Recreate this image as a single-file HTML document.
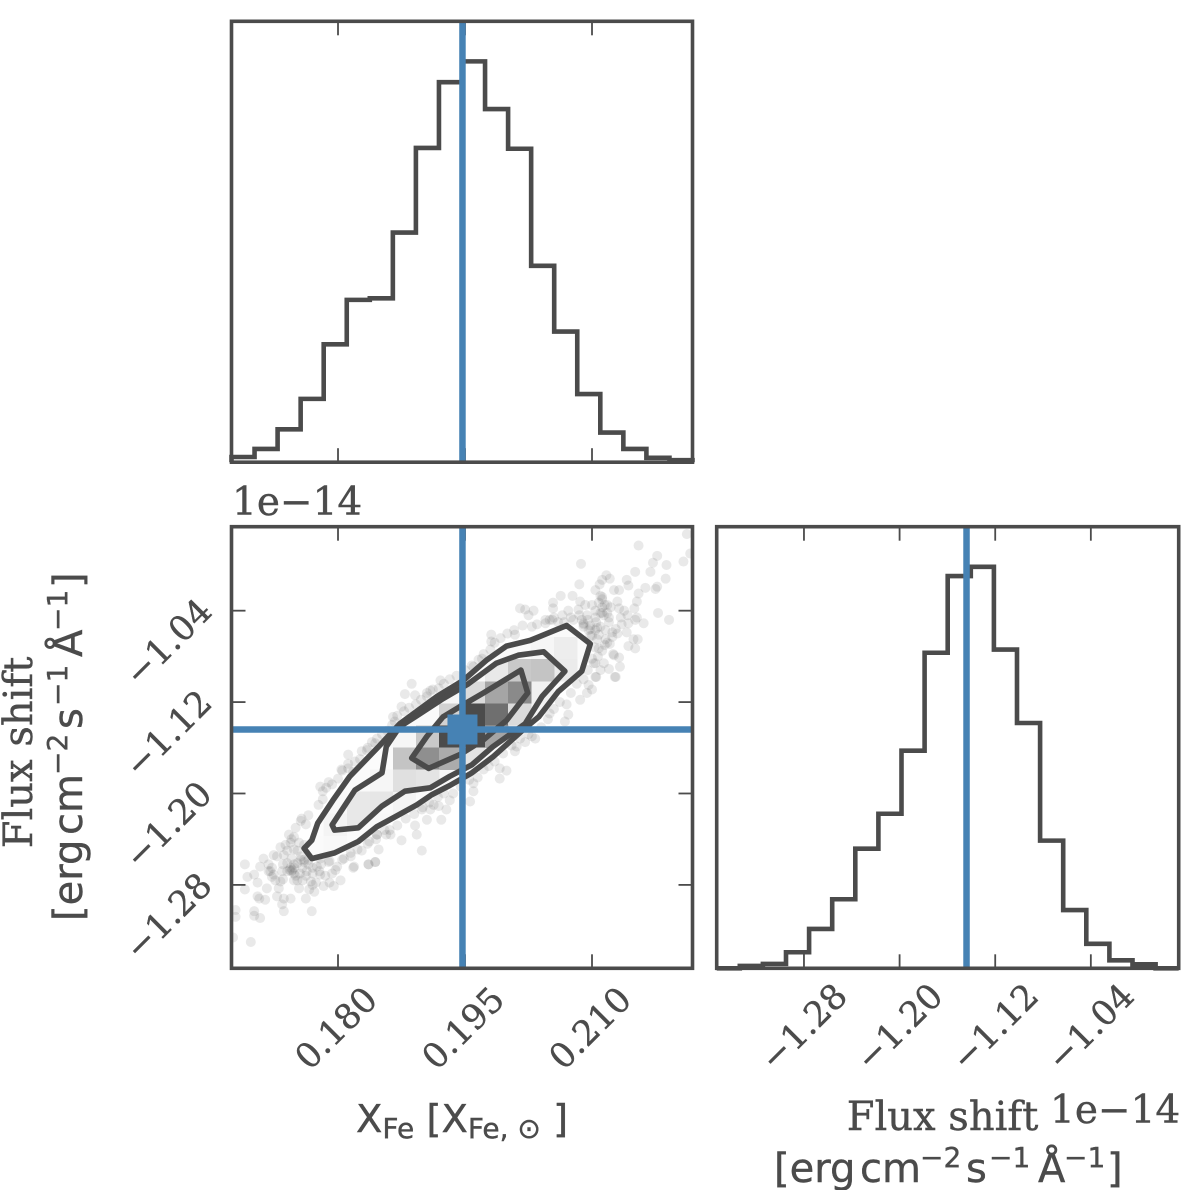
<!DOCTYPE html>
<html lang="en">
<head>
<meta charset="utf-8">
<title>Corner plot: X_Fe and flux shift</title>
<style>
html,body{margin:0;padding:0;background:#fff;}
svg{display:block;}
text{fill:#4b4b4b;stroke:#4b4b4b;stroke-width:0.4;}
.serif{font-family:"DejaVu Serif","Liberation Serif",serif;}
.sans{font-family:"DejaVu Sans","Liberation Sans",sans-serif;}
</style>
</head>
<body>
<svg id="chart" xmlns="http://www.w3.org/2000/svg" width="1200" height="1190" viewBox="0 0 1200 1190">
  <defs>
    <clipPath id="clip-joint"><rect x="231.5" y="526.7" width="461" height="441.6"/></clipPath>
    <clipPath id="clip-outer"><polygon id="clip-outer-shape" points="0,0"/></clipPath>
    <clipPath id="clip-middle"><polygon id="clip-middle-shape" points="0,0"/></clipPath>
  </defs>
  <rect x="0" y="0" width="1200" height="1190" fill="#fff"/>
  <g id="panel-top"></g>
  <g id="panel-joint"></g>
  <g id="panel-right"></g>
  <g id="tick-labels" class="serif" font-size="34.5"></g>

  <text class="serif" x="232" y="515" font-size="39">1e−14</text>
  <text class="serif" x="1050" y="1123" font-size="39">1e−14</text>

  <text class="sans" x="356" y="1132" font-size="38.5">X<tspan font-size="28" dy="6">Fe</tspan><tspan dy="-6"> [X</tspan><tspan font-size="28" dy="6">Fe, ⊙</tspan><tspan dy="-6"> ]</tspan></text>

  <text class="serif" x="942.5" y="1130" font-size="40" text-anchor="middle">Flux shift</text>
  <text class="sans" transform="translate(774,1182)" font-size="40">[erg<tspan x="86">cm</tspan><tspan x="146" font-size="28" dy="-15">−2</tspan><tspan x="192" dy="15">s</tspan><tspan x="215" font-size="28" dy="-15">−1</tspan><tspan x="264" dy="15">Å</tspan><tspan x="290" font-size="28" dy="-15">−1</tspan><tspan x="333" dy="15">]</tspan></text>

  <text class="serif" transform="translate(32,752.5) rotate(-90)" font-size="40" text-anchor="middle">Flux shift</text>
  <text class="sans" transform="translate(82,921) rotate(-90)" font-size="40">[erg<tspan x="86">cm</tspan><tspan x="146" font-size="28" dy="-15">−2</tspan><tspan x="192" dy="15">s</tspan><tspan x="215" font-size="28" dy="-15">−1</tspan><tspan x="264" dy="15">Å</tspan><tspan x="290" font-size="28" dy="-15">−1</tspan><tspan x="333" dy="15">]</tspan></text>
</svg>
<script>
/* ---------- data ---------- */
const feTicks = [0.180, 0.195, 0.210];
const feTickLabels = ["0.180", "0.195", "0.210"];
const fluxTicks = [-1.28, -1.20, -1.12, -1.04];
const fluxTickLabels = ["−1.28", "−1.20", "−1.12", "−1.04"];
const feRange = [0.16742, 0.22187];
const fluxRange = [-1.3530, -0.9665];
const truthFe = 0.1947;
const truthFlux = -1.144;

const feHistCounts = [13, 33, 82, 158, 294, 405, 409, 573, 784, 948, 1000, 881, 782, 490, 326, 170, 74, 33, 11, 5];
const fluxHistCounts = [0, 6, 11, 40, 98, 172, 298, 385, 542, 786, 977, 1000, 794, 611, 318, 145, 61, 20, 10, 0];

const densityRows = [
 [],[],[],[],[],
 [0,0,0,0,0,0,0,0,0,0,0,0,.03,.05,.1,.03],
 [0,0,0,0,0,0,0,0,0,0,0,.12,.3,.33,.11,.02],
 [0,0,0,0,0,0,0,0,0,.05,.2,.5,.65,.08,.02],
 [0,0,0,0,0,0,0,0,.03,.25,1,.8,.2,.06],
 [0,0,0,0,0,0,0,.05,.3,1,1,.5,.1],
 [0,0,0,0,0,0,.02,.33,.62,.46,.15,.03],
 [0,0,0,0,0,.03,.05,.17,.15,.04],
 [0,0,0,0,.04,.13,.14,.06,.02],
 [0,0,0,.02,.06,.13,.04],
 [0,0,0,.03,.04,.02],
 [],[],[],[],[]
];

const outerX = [.1760,.1769,.1796,.1824,.1846,.1856,.1893,.1911,.1932,.1958,.1983,.2019,.2037,.2060,.2088,.2098,.2070,.2027,.1999,.1976,.1948,.1917,.1873,.1848,.1814,.1794,.1776,.1769];
const outerY = [-1.248,-1.257,-1.252,-1.242,-1.229,-1.225,-1.210,-1.201,-1.193,-1.182,-1.168,-1.144,-1.133,-1.111,-1.093,-1.069,-1.053,-1.066,-1.071,-1.083,-1.101,-1.115,-1.139,-1.159,-1.185,-1.206,-1.226,-1.241];
const middleX = [.1793,.1796,.1824,.1852,.1879,.1909,.1932,.1958,.1983,.2021,.2041,.2068,.2043,.2013,.1987,.1954,.1924,.1891,.1873,.1857,.1852,.1820];
const middleY = [-1.2275,-1.232,-1.230,-1.211,-1.198,-1.195,-1.185,-1.175,-1.159,-1.139,-1.115,-1.093,-1.076,-1.079,-1.086,-1.104,-1.117,-1.133,-1.1415,-1.159,-1.182,-1.197];
const innerX = [.1887,.1907,.1944,.1972,.1999,.2024,.2016,.1972,.1944,.1924,.1905];
const innerY = [-1.169,-1.178,-1.166,-1.153,-1.136,-1.112,-1.092,-1.112,-1.124,-1.133,-1.150];

const sampleX = [
.1690,.1712,.1708,.1693,.1701,.1705,.1690,.1716,.1705,.1714,.1707,.1728,.1736,.1744,.1734,.1736,.1762,.1769,.1701,.1701,
.1708,.1679,.1679,.1676,.1697,.1718,.1722,.1726,.1732,.1730,.1746,.1744,.1748,.1740,.1752,.1756,.1760,.1734,.1724,.1728,
.1736,.1738,.1744,.1748,.1742,.1748,.1754,.1750,.1762,.1756,.1770,.1775,.1779,.1768,.1774,.1754,.1752,.1766,.1772,.1783,
.1795,.1803,.1797,.1799,.1819,.1836,.1844,.1848,.1846,.1837,.1823,.1815,.1807,.1789,.1779,.1793,
.1745,.1748,.1743,.1720,.1724,.1760,.1756,.1735,.1750,.1765,.1740,.1732,.1745,.1755,.1762,
.2212,.2155,.2216,.2177,.2172,.2208,.2188,.2087,.2151,.2169,.2187,.2141,.2143,.2163,.2177,.2175,.2117,.2121,.2112,.2109,
.2085,.2104,.2110,.2112,.2126,.2132,.2155,.2153,.2063,.2077,.2086,.2054,.2054,.2072,.2084,.2092,.2100,.2104,.2112,.2118,
.2122,.2130,.2132,.2138,.2150,.2114,.2120,.2134,.2153,.2143,.2151,.2161,.2178,.2191,.2104,.2094,.2088,.2078,.2067,.2053,
.2045,.2090,.2098,.2104,.2116,.2124,.2130,.2141,.2106,.2116,.2124,.2149,.2154,.2143,.2151,.2108,.2112,.2121,.2126,.2132,
.2133,.2114,.2104,.2120,.2110,.2128,.2104,.2090,.2096,.2098,.2110,.2115,.2108,.2106,
.1887,.1879,.1891,.1905,.1919,.1921,.1909,.1875,.1865,.1867,.1844,.1834,.1828,.1812,.1812,.1804,.1818,.1789,.1779,.1782,
.1777,.1757,.1765,.1981,.1981,.1970,.1960,.2015,.2021,.2031,.2025,.2029,.2009,.1980,.2050,.2060,
.2127,.2102,.2105,.2096,.2086,.2100,.2094,.2072,.2068,.2070,.2050,.2033,.2029,.2021,.2011,.2009,.1991,.1999,.1991,.1972,
.1960,.1960,.1956,.1932,.1928,.1922,.1909,.1913,.1905,.1899,.1891,.1893,.1899,.1875,.1861,.1857,.1844,.1836,.1818,.1846,.1919,
.1782,.1786,.1793,.1800,.1805,.1812,.1820,.1826,.1835,.1840,.1846,.1852,.1858,.1864,.1870,.1878,.1884,.1892,.1898,.1905,
.1912,.1925,.1932,.1940,.1950,.1958,.1966,.1972,.1985,.1992,.2000,.2008,.2018,.2035,.2045,.2055,.2065,.2075,.2085,
.1780,.1790,.1805,.1815,.1828,.1835,.1845,.1855,.1862,.1870,.1880,.1890,.1900,.1908,.1918,.1925,.1936,.1945,.1955,.1965,
.1978,.1985,.1995,.2005,.2015,.2025,.2040,.2048,.2055,.2062,.2075,.2082,.2090,.2095,
.2100,.2103,.2107,.2098,.2090,.2095,.2110,.2118,.2125,.2100,.2095,.2105,.2112,.2120,.2128,.2115,.2135,.2142,.2108,.2112,.2118,
.1765,.1758,.1770,.1778,.1785,.1748,.1740,.1752,.1760,.1745,.1735,.1770,.1758,.1763,.1748,.1718,.1722,.1790
];
const sampleY = [
-1.262,-1.257,-1.264,-1.273,-1.271,-1.278,-1.284,-1.283,-1.290,-1.293,-1.292,-1.290,-1.292,-1.292,-1.297,-1.303,-1.292,-1.303,-1.303,-1.307,
-1.309,-1.302,-1.308,-1.326,-1.330,-1.268,-1.273,-1.276,-1.277,-1.283,-1.267,-1.265,-1.270,-1.261,-1.261,-1.258,-1.260,-1.268,-1.254,-1.255,
-1.254,-1.245,-1.243,-1.249,-1.236,-1.238,-1.243,-1.230,-1.227,-1.224,-1.265,-1.264,-1.271,-1.277,-1.278,-1.283,-1.276,-1.284,-1.286,-1.281,
-1.281,-1.276,-1.267,-1.264,-1.264,-1.262,-1.260,-1.249,-1.236,-1.242,-1.249,-1.255,-1.257,-1.260,-1.257,-1.270,
-1.268,-1.265,-1.267,-1.268,-1.271,-1.258,-1.255,-1.275,-1.272,-1.262,-1.250,-1.247,-1.257,-1.270,-1.272,
-0.973,-0.983,-0.990,-0.992,-0.998,-0.997,-1.000,-0.999,-1.006,-1.006,-1.012,-1.013,-1.018,-1.020,-1.019,-1.021,-1.009,-1.012,-1.013,-1.017,
-1.017,-1.022,-1.027,-1.030,-1.022,-1.022,-1.025,-1.032,-1.027,-1.027,-1.032,-1.033,-1.038,-1.040,-1.039,-1.035,-1.035,-1.040,-1.037,-1.035,
-1.037,-1.032,-1.038,-1.040,-1.038,-1.044,-1.046,-1.046,-1.046,-1.051,-1.048,-1.051,-1.042,-1.048,-1.046,-1.044,-1.048,-1.048,-1.050,-1.048,
-1.051,-1.054,-1.053,-1.057,-1.057,-1.059,-1.060,-1.059,-1.065,-1.065,-1.063,-1.065,-1.065,-1.071,-1.073,-1.073,-1.075,-1.069,-1.079,-1.081,
-1.089,-1.086,-1.086,-1.091,-1.092,-1.098,-1.098,-1.051,-1.057,-1.062,-1.042,-1.035,-1.033,-1.055,
-1.104,-1.113,-1.114,-1.112,-1.108,-1.101,-1.110,-1.124,-1.133,-1.137,-1.156,-1.162,-1.163,-1.166,-1.174,-1.179,-1.181,-1.190,-1.194,-1.198,
-1.210,-1.222,-1.219,-1.061,-1.067,-1.082,-1.089,-1.038,-1.039,-1.040,-1.044,-1.054,-1.061,-1.074,-1.048,-1.050,
-1.098,-1.086,-1.098,-1.105,-1.118,-1.109,-1.112,-1.131,-1.137,-1.122,-1.130,-1.152,-1.150,-1.155,-1.159,-1.163,-1.178,-1.180,-1.187,-1.179,
-1.191,-1.198,-1.207,-1.206,-1.214,-1.223,-1.214,-1.210,-1.223,-1.214,-1.228,-1.236,-1.250,-1.241,-1.232,-1.236,-1.260,-1.262,-1.265,-1.236,-1.211,
-1.205,-1.195,-1.192,-1.187,-1.180,-1.178,-1.172,-1.170,-1.160,-1.155,-1.152,-1.148,-1.145,-1.140,-1.132,-1.128,-1.125,-1.122,-1.118,-1.115,
-1.109,-1.104,-1.100,-1.097,-1.092,-1.088,-1.083,-1.078,-1.068,-1.064,-1.060,-1.057,-1.053,-1.052,-1.048,-1.046,-1.044,-1.046,-1.044,
-1.262,-1.259,-1.258,-1.252,-1.250,-1.244,-1.240,-1.232,-1.236,-1.228,-1.222,-1.218,-1.212,-1.208,-1.203,-1.200,-1.200,-1.194,-1.188,-1.186,
-1.176,-1.172,-1.165,-1.158,-1.152,-1.148,-1.142,-1.135,-1.126,-1.120,-1.112,-1.104,-1.100,-1.092,
-1.062,-1.072,-1.080,-1.056,-1.052,-1.048,-1.054,-1.068,-1.078,-1.082,-1.070,-1.050,-1.042,-1.050,-1.056,-1.070,-1.052,-1.044,-1.061,-1.028,-1.042,
-1.258,-1.265,-1.270,-1.268,-1.272,-1.262,-1.268,-1.250,-1.245,-1.240,-1.262,-1.280,-1.276,-1.268,-1.276,-1.262,-1.265,-1.278
];

/* ---------- layout ---------- */
const INK = "#4b4b4b";
const BLUE = "#4682b4";
const NS = "http://www.w3.org/2000/svg";
const BINS = 20;
const HEADROOM = 1.1;
const LIGHT_CELL_LIMIT = 0.115;
const LEFT_A = 231.5, RIGHT_A = 692.5, LEFT_B = 716.7, RIGHT_B = 1178.7;
const TOP_1 = 21.3, BOTTOM_1 = 462.2, TOP_2 = 526.7, BOTTOM_2 = 968.3;
const TICK_LEN = 14;

/* ---------- axis functions ---------- */
function scale(d0, d1, r0, r1) { return function (v) { return r0 + (v - d0) / (d1 - d0) * (r1 - r0); }; }
const xFe = scale(feRange[0], feRange[1], LEFT_A, RIGHT_A);
const yFlux = scale(fluxRange[0], fluxRange[1], BOTTOM_2, TOP_2);
const xFlux = scale(fluxRange[0], fluxRange[1], LEFT_B, RIGHT_B);

function make(tag, attrs) {
  const el = document.createElementNS(NS, tag);
  for (const k in attrs) el.setAttribute(k, attrs[k]);
  return el;
}
function vTicks(parent, ticks, xf, top, bottom) {
  ticks.forEach(function (t) {
    [[top, top + TICK_LEN], [bottom - TICK_LEN, bottom]].forEach(function (s) {
      const el = make("line", {x1: xf(t), x2: xf(t), y1: s[0], y2: s[1], stroke: INK, "stroke-width": 1.8});
      
      
      parent.appendChild(el);
    });
  });
}
function hTicks(parent, ticks, yf, left, right) {
  ticks.forEach(function (t) {
    [[left, left + TICK_LEN], [right - TICK_LEN, right]].forEach(function (s) {
      const el = make("line", {x1: s[0], x2: s[1], y1: yf(t), y2: yf(t), stroke: INK, "stroke-width": 1.8});
      
      
      parent.appendChild(el);
    });
  });
}
function histogram(parent, counts, left, right, top, bottom, name) {
  const peak = Math.max.apply(null, counts);
  const yf = scale(0, peak * HEADROOM, bottom, top);
  const w = (right - left) / counts.length;
  let d = "M" + left + " " + bottom;
  counts.forEach(function (c, i) {
    d += "L" + (left + i * w) + " " + yf(c) + "L" + (left + (i + 1) * w) + " " + yf(c);
  });
  d += "L" + right + " " + bottom;
  const el = make("path", {d: d, fill: "none", stroke: INK, "stroke-width": 4.6, "stroke-linejoin": "miter"});
  
  
  parent.appendChild(el);
}
function frame(parent, left, right, top, bottom, name) {
  const el = make("rect", {x: left, y: top, width: right - left, height: bottom - top, fill: "none", stroke: INK, "stroke-width": 3.6});
  
  
  parent.appendChild(el);
}
function vLine(parent, x, top, bottom, name) {
  const el = make("line", {x1: x, x2: x, y1: top, y2: bottom, stroke: BLUE, "stroke-width": 6.5});
  
  
  parent.appendChild(el);
}
function pts(xs, ys) {
  return xs.map(function (v, i) { return xFe(v).toFixed(1) + "," + yFlux(ys[i]).toFixed(1); }).join(" ");
}

/* ---------- top histogram ---------- */
const top1 = document.getElementById("panel-top");
vTicks(top1, feTicks, xFe, TOP_1, BOTTOM_1);
histogram(top1, feHistCounts, LEFT_A, RIGHT_A, TOP_1, BOTTOM_1, "x-fe-histogram");
vLine(top1, xFe(truthFe), TOP_1, BOTTOM_1, "x-fe-truth-line");
frame(top1, LEFT_A, RIGHT_A, TOP_1, BOTTOM_1, "x-fe-panel-frame");

/* ---------- joint panel ---------- */
const joint = document.getElementById("panel-joint");
vTicks(joint, feTicks, xFe, TOP_2, BOTTOM_2);
hTicks(joint, fluxTicks, yFlux, LEFT_A, RIGHT_A);

const dots = make("g", {"clip-path": "url(#clip-joint)"});


joint.appendChild(dots);
sampleX.forEach(function (v, i) {
  const el = make("circle", {cx: xFe(v), cy: yFlux(sampleY[i]), r: 5, fill: INK, "fill-opacity": 0.12});
  
  
  dots.appendChild(el);
});

document.getElementById("clip-outer-shape").setAttribute("points", pts(outerX, outerY));
document.getElementById("clip-middle-shape").setAttribute("points", pts(middleX, middleY));
const mask = make("polygon", {points: pts(outerX, outerY), fill: "#fafafa"});


joint.appendChild(mask);

const lightCells = make("g", {"clip-path": "url(#clip-outer)", "shape-rendering": "crispEdges"});


joint.appendChild(lightCells);
const coreCells = make("g", {"clip-path": "url(#clip-middle)", "shape-rendering": "crispEdges"});


joint.appendChild(coreCells);
const cellW = (RIGHT_A - LEFT_A) / BINS, cellH = (BOTTOM_2 - TOP_2) / BINS;
densityRows.forEach(function (row, r) {
  row.forEach(function (d, c) {
    if (!d) return;
    const g = Math.round(255 - d * 180);
    const el = make("rect", {x: LEFT_A + c * cellW, y: TOP_2 + r * cellH, width: cellW + 0.3, height: cellH + 0.3, fill: "rgb(" + g + "," + g + "," + g + ")"});
    
    
    (d < LIGHT_CELL_LIMIT ? lightCells : coreCells).appendChild(el);
  });
});

[[outerX, outerY, "contour-outer"], [middleX, middleY, "contour-middle"], [innerX, innerY, "contour-inner"]].forEach(function (c) {
  const el = make("polygon", {points: pts(c[0], c[1]), fill: "none", stroke: INK, "stroke-width": 5.6, "stroke-linejoin": "round"});
  
  
  joint.appendChild(el);
});

vLine(joint, xFe(truthFe), TOP_2, BOTTOM_2, "joint-truth-vertical-line");
const hLine = make("line", {x1: LEFT_A, x2: RIGHT_A, y1: yFlux(truthFlux), y2: yFlux(truthFlux), stroke: BLUE, "stroke-width": 6.5});


joint.appendChild(hLine);
const marker = make("rect", {x: xFe(truthFe) - 15, y: yFlux(truthFlux) - 15, width: 30, height: 30, fill: BLUE});


joint.appendChild(marker);
frame(joint, LEFT_A, RIGHT_A, TOP_2, BOTTOM_2, "joint-panel-frame");

/* ---------- right histogram ---------- */
const right2 = document.getElementById("panel-right");
vTicks(right2, fluxTicks, xFlux, TOP_2, BOTTOM_2);
histogram(right2, fluxHistCounts, LEFT_B, RIGHT_B, TOP_2, BOTTOM_2, "flux-shift-histogram");
vLine(right2, xFlux(truthFlux), TOP_2, BOTTOM_2, "flux-shift-truth-line");
frame(right2, LEFT_B, RIGHT_B, TOP_2, BOTTOM_2, "flux-panel-frame");

/* ---------- tick labels ---------- */
const labels = document.getElementById("tick-labels");
function tickLabel(str, cx, cy, name) {
  const el = make("text", {transform: "translate(" + cx + "," + cy + ") rotate(-45)", "text-anchor": "middle", y: 12});
  el.textContent = str;
  
  
  labels.appendChild(el);
}
feTicks.forEach(function (t, i) { tickLabel(feTickLabels[i], xFe(t) - 2, 1028, "x-fe-tick-label"); });
fluxTicks.forEach(function (t, i) { tickLabel(fluxTickLabels[i], xFlux(t) - 0.5, 1027, "x-flux-tick-label"); });
fluxTicks.forEach(function (t, i) { tickLabel(fluxTickLabels[i], 168, yFlux(t) + 31.5, "y-flux-tick-label"); });
</script>
</body>
</html>
